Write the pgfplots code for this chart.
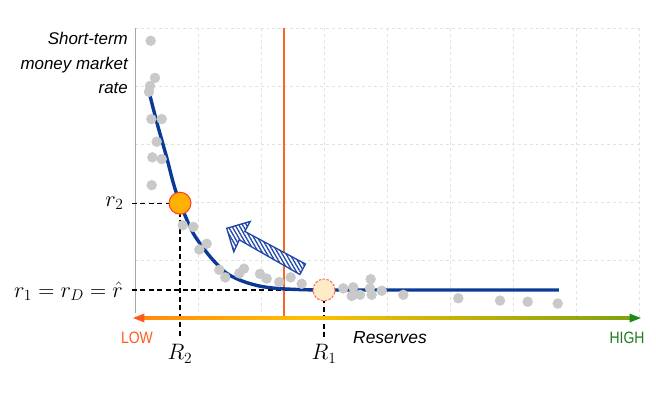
\documentclass[border=0pt]{standalone}
\usepackage[no-math]{fontspec}
\setmainfont{Liberation Sans}
\newfontfamily\narrowfont[FakeStretch=0.85]{Liberation Sans}
\usepackage{graphicx}
\usepackage{pgfplots}
\usepackage{pgfplotstable}
\pgfplotsset{compat=1.18}
\usetikzlibrary{patterns.meta}
\definecolor{curveblue}{HTML}{0A3A96}
\definecolor{arrowblue}{HTML}{1F45A8}
\definecolor{gridc}{HTML}{E2E2E2}
\definecolor{ptgrey}{HTML}{C9C9C9}
\definecolor{lowc}{HTML}{FF5A1E}
\definecolor{midc}{HTML}{FFC000}
\definecolor{highc}{HTML}{1E8A1E}
\definecolor{highText}{HTML}{1E7A1E}
\definecolor{vline}{HTML}{F4692A}
\definecolor{rtwo}{HTML}{FFB000}
\definecolor{rone}{HTML}{FFEBC8}
\definecolor{redb}{HTML}{FF3A2A}
\pgfdeclarehorizontalshading{lowhigh}{100bp}{color(0bp)=(lowc); color(22bp)=(lowc!60!midc); color(42bp)=(midc); color(100bp)=(highc)}
\newcommand{\bigmath}[1]{\scalebox{1.08}{\fontsize{20.74}{24}\selectfont$#1$}}

\pgfplotstableread{
x y
0.249 4.78
0.317 4.14
0.238 4.00
0.222 3.90
0.259 3.43
0.424 3.43
0.344 3.04
0.275 2.77
0.424 2.74
0.265 2.29
0.757 1.60
0.925 1.57
1.138 1.28
1.021 1.18
1.338 0.83
1.433 0.70
1.730 0.85
1.656 0.77
1.984 0.76
2.090 0.68
2.290 0.62
2.471 0.70
2.646 0.59
3.306 0.51
3.465 0.53
3.440 0.38
3.571 0.40
3.741 0.67
3.730 0.51
3.757 0.40
3.916 0.47
4.259 0.40
5.132 0.34
5.794 0.30
6.233 0.28
6.710 0.25
}\scatterdata

\begin{document}
\begin{tikzpicture}
\begin{axis}[
  scale only axis, width=504bp, height=290bp,
  xmin=0, xmax=8, ymin=0, ymax=5,
  xtick={0,...,8}, ytick={0,...,5},
  xticklabels={}, yticklabels={},
  major tick length=0pt,
  grid=major,
  grid style={dashed, color=gridc, line width=0.8bp},
  axis line style={draw=none},
  clip=false,
]
% bounding box of the whole picture (656 x 392 px)
\path (axis cs:-2.143,-1.276) rectangle (axis cs:8.270,5.483);

% left axis line
\draw[color=gray!70, line width=0.9bp] (axis cs:0,0.086) -- (axis cs:0,5);

% scatter
\addplot[only marks, mark=*, mark size=5, color=ptgrey, fill=ptgrey] table {\scatterdata};

% vertical orange line
\draw[color=vline, line width=1.4bp] (axis cs:2.365,0) -- (axis cs:2.365,5);

% dashed guides
\draw[line width=1.2bp, dash pattern=on 5bp off 3.5bp] (axis cs:-0.048,1.98) -- (axis cs:0.714,1.98);
\draw[line width=1.2bp, dash pattern=on 5bp off 3.5bp] (axis cs:-0.048,0.483) -- (axis cs:3.0,0.483);
\draw[line width=1.2bp, dash pattern=on 5bp off 3.5bp] (axis cs:0.714,1.98) -- (axis cs:0.714,-0.345);
\draw[line width=1.2bp, dash pattern=on 5bp off 3.5bp] (axis cs:3.0,0.483) -- (axis cs:3.0,-0.345);

% curve
\addplot[color=curveblue, line width=3.4bp, smooth, tension=0.45] coordinates {
(0.222,3.90) (0.35,3.36) (0.5,2.78) (0.61,2.32) (0.714,1.98) (0.925,1.46)
(1.19,1.06) (1.455,0.77) (1.72,0.63) (1.98,0.55) (2.25,0.51) (2.62,0.49)
(3.0,0.483) (4.0,0.483) (6.73,0.483)};

% points R2 and R1
\addplot[only marks, mark=*, mark size=11, color=redb, mark options={fill=rtwo, draw=redb, line width=1bp}] coordinates {(0.714,1.98)};
\addplot[only marks, mark=*, mark size=11, color=redb, mark options={fill=rone, draw=redb!80, line width=1bp, dash pattern=on 2.5bp off 1.5bp}] coordinates {(3.0,0.483)};

% hatched block arrow
\fill[white]
 (axis cs:2.706,0.931) -- (axis cs:1.743,1.493) -- (axis cs:1.829,1.665) -- (axis cs:1.456,1.547)
 -- (axis cs:1.568,1.141) -- (axis cs:1.655,1.348) -- (axis cs:2.617,0.750) -- cycle;
\fill[pattern={Lines[angle=-60, distance=3.3bp, line width=1.3bp]}, pattern color=arrowblue]
 (axis cs:2.706,0.931) -- (axis cs:1.743,1.493) -- (axis cs:1.829,1.665) -- (axis cs:1.456,1.547)
 -- (axis cs:1.568,1.141) -- (axis cs:1.655,1.348) -- (axis cs:2.617,0.750) -- cycle;
\draw[draw=arrowblue, line width=1.3bp, line join=miter]
 (axis cs:2.706,0.931) -- (axis cs:1.743,1.493) -- (axis cs:1.829,1.665) -- (axis cs:1.456,1.547)
 -- (axis cs:1.568,1.141) -- (axis cs:1.655,1.348) -- (axis cs:2.617,0.750) -- cycle;

% gradient double arrow
\shade[shading=lowhigh] (axis cs:0.12,-0.026) rectangle (axis cs:7.88,0.026);
\fill[lowc] (axis cs:-0.032,0) -- (axis cs:0.15,0.078) -- (axis cs:0.15,-0.078) -- cycle;
\fill[highc] (axis cs:8.03,0) -- (axis cs:7.85,0.078) -- (axis cs:7.85,-0.078) -- cycle;

% labels
\node[anchor=east, align=right, font=\fontsize{17}{25}\selectfont\itshape, inner sep=0pt]
  at (axis cs:-0.111,4.397) {Short-term\\money market\\rate};
\node[anchor=east, inner sep=0pt] at (axis cs:-0.18,1.98) {\bigmath{r_2}};
\node[anchor=east, inner sep=0pt] at (axis cs:-0.19,0.46) {\bigmath{r_1=r_D=\hat{r}}};
\node[inner sep=0pt] at (axis cs:0.714,-0.62) {\bigmath{R_2}};
\node[inner sep=0pt] at (axis cs:3.0,-0.62) {\bigmath{R_1}};
\node[font=\fontsize{16.5}{20}\selectfont\narrowfont, text=lowc, inner sep=0pt] at (axis cs:0.032,-0.345) {LOW};
\node[font=\fontsize{16.5}{20}\selectfont\narrowfont, text=highText, inner sep=0pt] at (axis cs:7.81,-0.345) {HIGH};
\node[font=\fontsize{17.5}{20}\selectfont\itshape, inner sep=0pt] at (axis cs:4.048,-0.345) {Reserves};
\end{axis}
\end{tikzpicture}
\end{document}
